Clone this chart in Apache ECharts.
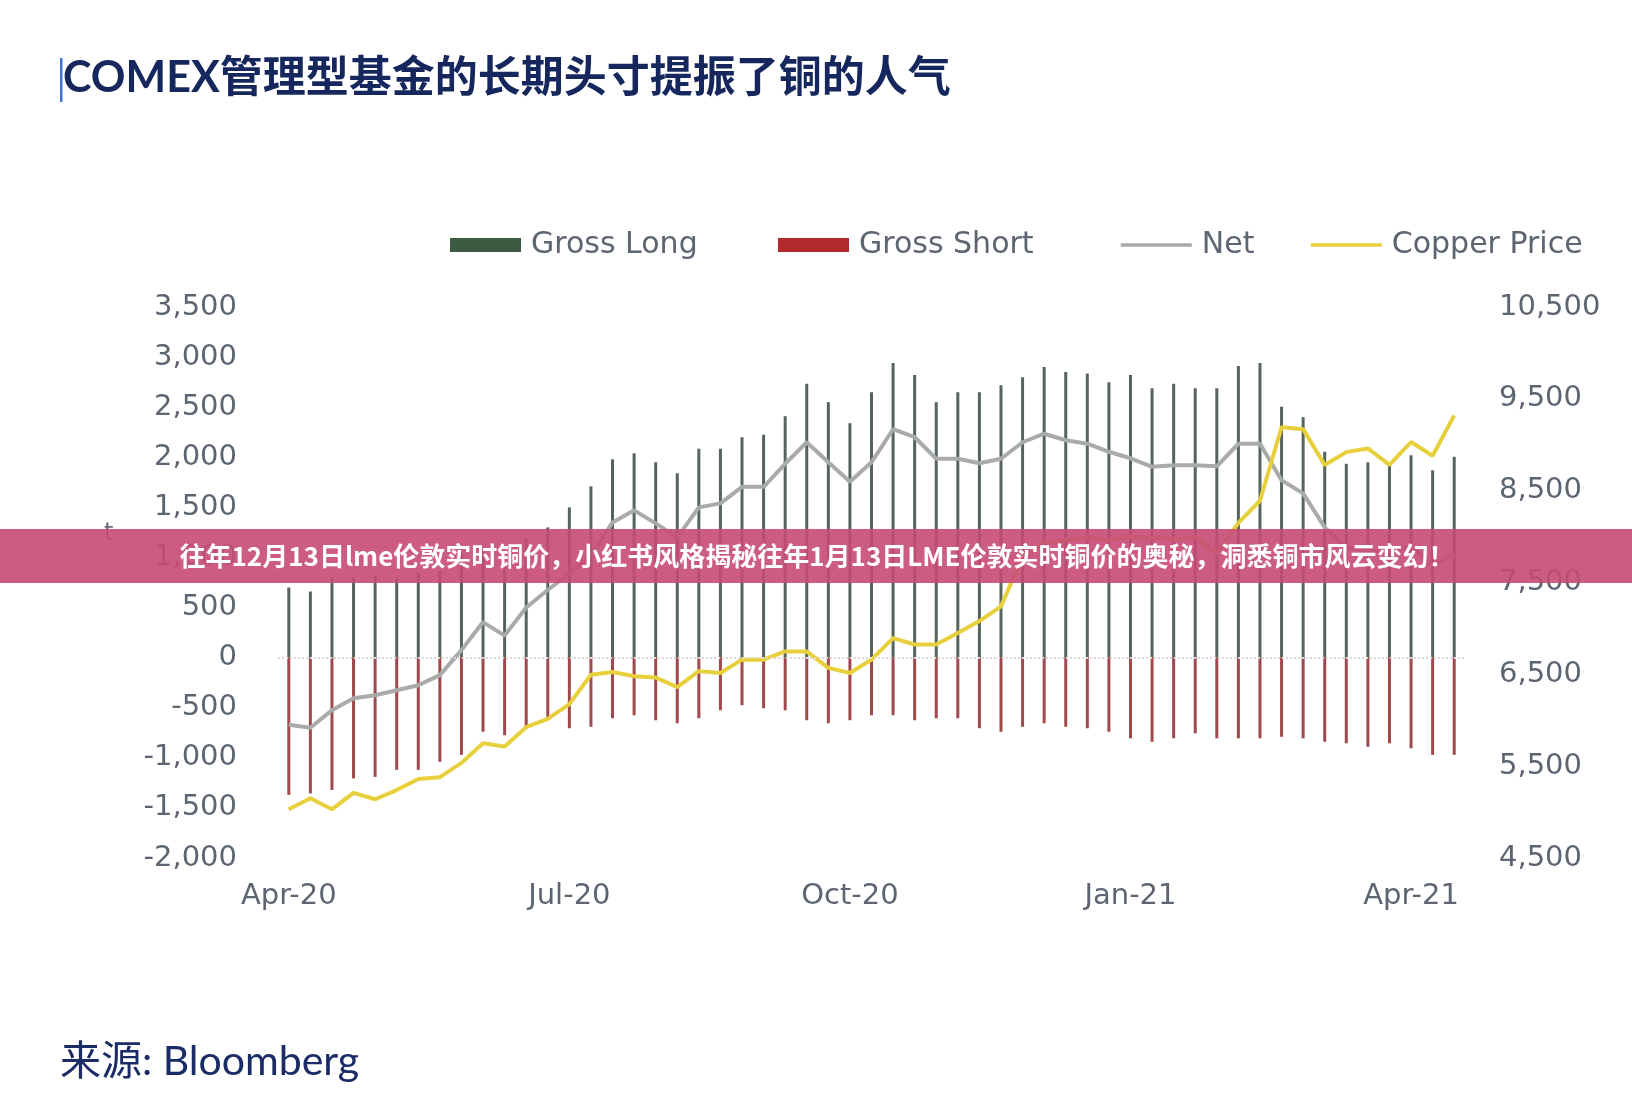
<!DOCTYPE html>
<html>
<head>
<meta charset="utf-8">
<script src="https://cdn.jsdelivr.net/npm/echarts@6/dist/echarts.min.js"></script>
<style>
  html, body { margin: 0; padding: 0; background: #fff; }
  #chart { width: 1632px; height: 1111px; }
</style>
</head>
<body>
<div id="chart"></div>
<script>
// weekly COT report dates (Tuesdays)
const weeks = [
  '2020-04-07', '2020-04-14', '2020-04-21', '2020-04-28', '2020-05-05', '2020-05-12', '2020-05-19', '2020-05-26',
  '2020-06-02', '2020-06-09', '2020-06-16', '2020-06-23', '2020-06-30', '2020-07-07', '2020-07-14', '2020-07-21',
  '2020-07-28', '2020-08-04', '2020-08-11', '2020-08-18', '2020-08-25', '2020-09-01', '2020-09-08', '2020-09-15',
  '2020-09-22', '2020-09-29', '2020-10-06', '2020-10-13', '2020-10-20', '2020-10-27', '2020-11-03', '2020-11-10',
  '2020-11-17', '2020-11-24', '2020-12-01', '2020-12-08', '2020-12-15', '2020-12-22', '2020-12-29', '2021-01-05',
  '2021-01-12', '2021-01-19', '2021-01-26', '2021-02-02', '2021-02-09', '2021-02-16', '2021-02-23', '2021-03-02',
  '2021-03-09', '2021-03-16', '2021-03-23', '2021-03-30', '2021-04-06', '2021-04-13', '2021-04-20'
];

const grossLong = [
  700, 660, 800, 800, 815, 800, 850, 865, 1040, 1090, 1000, 1190, 1300, 1500, 1710, 1980,
  2040, 1950, 1840, 2085, 2085, 2200, 2225, 2410, 2735, 2550, 2340, 2650, 2940, 2820, 2550, 2650,
  2650, 2720, 2800, 2900, 2850, 2835, 2750, 2820, 2690, 2735, 2690, 2690, 2910, 2940, 2505, 2400,
  2055, 1935, 1950, 1920, 2020, 1870, 2005
];

const grossShort = [
  -1370, -1355, -1320, -1205, -1190, -1120, -1120, -1040, -970, -740, -775, -690, -605, -705, -690, -605,
  -575, -625, -655, -605, -525, -475, -505, -525, -625, -655, -625, -575, -575, -625, -605, -605,
  -705, -740, -690, -655, -690, -705, -740, -805, -840, -805, -755, -805, -805, -805, -790, -805,
  -840, -855, -890, -855, -905, -970, -970
];

const net = [
  -670, -700, -525, -405, -375, -325, -275, -175, 75, 355, 220, 500, 675, 840, 1020, 1350,
  1470, 1340, 1200, 1500, 1540, 1705, 1705, 1935, 2150, 1950, 1755, 1950, 2280, 2200, 1985, 1985,
  1940, 1985, 2150, 2235, 2170, 2135, 2055, 1990, 1905, 1920, 1920, 1910, 2135, 2135, 1770, 1640,
  1300, 1100, 1070, 1060, 1110, 920, 1030
];

const copperPrice = [
  5030, 5150, 5030, 5210, 5140, 5240, 5360, 5380, 5535, 5750, 5715, 5925, 6015, 6175, 6495, 6525,
  6480, 6465, 6360, 6535, 6515, 6660, 6660, 6750, 6750, 6570, 6515, 6660, 6895, 6825, 6825, 6950,
  7080, 7240, 7780, 7930, 7960, 7990, 7960, 8000, 7990, 7970, 7990, 7820, 8150, 8390, 9190, 9170,
  8780, 8920, 8960, 8780, 9030, 8880, 9320
];

const monthNames = ['Jan', 'Feb', 'Mar', 'Apr', 'May', 'Jun', 'Jul', 'Aug', 'Sep', 'Oct', 'Nov', 'Dec'];

const labelColor = '#5d6472';
const labelFont = 'DejaVu Sans';

const chart = echarts.init(document.getElementById('chart'));

const legendBase = {
  top: 225,
  itemWidth: 71,
  itemHeight: 14,
  selectedMode: false,
  textStyle: { color: labelColor, fontSize: 30, fontFamily: labelFont, padding: [0, 0, 0, 5] },
};

const option = {
  animation: false,
  backgroundColor: '#ffffff',
  grid: { left: 278, top: 307, width: 1187, height: 551 },
  legend: [
    { ...legendBase, left: 445, data: [{ name: 'Gross Long', icon: 'rect', itemStyle: { color: '#3b5a41' } }] },
    { ...legendBase, left: 773, data: [{ name: 'Gross Short', icon: 'rect', itemStyle: { color: '#b4292b' } }] },
    { ...legendBase, left: 1114, data: [{ name: 'Net', itemStyle: { opacity: 0 }, lineStyle: { width: 3.5 } }] },
    { ...legendBase, left: 1304, data: [{ name: 'Copper Price', itemStyle: { opacity: 0 }, lineStyle: { width: 3.5 } }] },
  ],
  xAxis: {
    type: 'category',
    data: weeks,
    boundaryGap: true,
    axisLine: { show: false },
    axisTick: { show: false },
    axisLabel: {
      interval: (idx) => idx % 13 === 0,
      formatter: (d) => monthNames[+d.slice(5, 7) - 1] + '-' + d.slice(2, 4),
      color: labelColor,
      fontSize: 29,
      fontFamily: labelFont,
      margin: 24,
    },
  },
  yAxis: [
    {
      type: 'value',
      min: -2000,
      max: 3500,
      interval: 500,
      axisLine: { show: false },
      axisTick: { show: false },
      splitLine: { show: false },
      axisLabel: {
        formatter: (v) => v.toLocaleString('en-US'),
        color: labelColor,
        fontSize: 29,
        fontFamily: labelFont,
        margin: 41,
      },
    },
    {
      type: 'value',
      position: 'right',
      min: 4500,
      max: 10500,
      interval: 500,
      axisLine: { show: false },
      axisTick: { show: false },
      splitLine: { show: false },
      axisLabel: {
        // only odd thousands are labelled
        formatter: (v) => ((v - 4500) % 1000 === 0 ? v.toLocaleString('en-US') : ''),
        color: labelColor,
        fontSize: 29,
        fontFamily: labelFont,
        margin: 34,
      },
    },
  ],
  series: [
    {
      name: 'Gross Long',
      type: 'bar',
      data: grossLong,
      barWidth: 3,
      barGap: '-100%',
      itemStyle: { color: '#56655a' },
      markLine: {
        silent: true,
        symbol: 'none',
        label: { show: false },
        lineStyle: { color: '#e3d6d8', type: 'dotted', width: 2 },
        data: [{ yAxis: 0 }],
      },
    },
    {
      name: 'Gross Short',
      type: 'bar',
      data: grossShort,
      barWidth: 3,
      barGap: '-100%',
      itemStyle: { color: '#a0494d' },
    },
    {
      name: 'Net',
      type: 'line',
      data: net,
      symbol: 'none',
      z: 3,
      lineStyle: { color: '#a9aba9', width: 4 },
      itemStyle: { color: '#a9aba9' },
    },
    {
      name: 'Copper Price',
      type: 'line',
      yAxisIndex: 1,
      data: copperPrice,
      symbol: 'none',
      z: 4,
      lineStyle: { color: '#e8d03c', width: 4 },
      itemStyle: { color: '#e8d03c' },
    },
  ],
  graphic: [
    {
      type: 'rect',
      shape: { x: 60, y: 58, width: 2.5, height: 44 },
      style: { fill: '#3f74d6' },
    },
    {
      type: 'text',
      x: 63,
      y: 78,
      style: {
        text: 'COMEX管理型基金的长期头寸提振了铜的人气',
        font: 'bold 43px Lato, "Noto Sans CJK SC"',
        fill: '#15275c',
        textVerticalAlign: 'middle',
      },
    },
    {
      type: 'text',
      x: 104,
      y: 534,
      style: { text: 't', font: '24px "DejaVu Sans"', fill: '#666a72', textVerticalAlign: 'middle' },
    },
    {
      type: 'text',
      x: 60,
      y: 1062,
      style: {
        text: '来源: Bloomberg',
        font: '41px Lato, "Noto Sans CJK SC"',
        fill: '#1b2b66',
        textVerticalAlign: 'middle',
      },
    },
    {
      type: 'rect',
      z: 100,
      shape: { x: 0, y: 529, width: 1632, height: 54 },
      style: { fill: 'rgba(198, 74, 118, 0.9)' },
    },
    {
      type: 'text',
      z: 101,
      x: 817,
      y: 556,
      style: {
        text: '往年12月13日lme伦敦实时铜价，小红书风格揭秘往年1月13日LME伦敦实时铜价的奥秘，洞悉铜市风云变幻！',
        font: 'bold 26px "Noto Sans CJK SC"',
        fill: '#ffffff',
        textAlign: 'center',
        textVerticalAlign: 'middle',
      },
    },
  ],
};

chart.setOption(option);
</script>
</body>
</html>
